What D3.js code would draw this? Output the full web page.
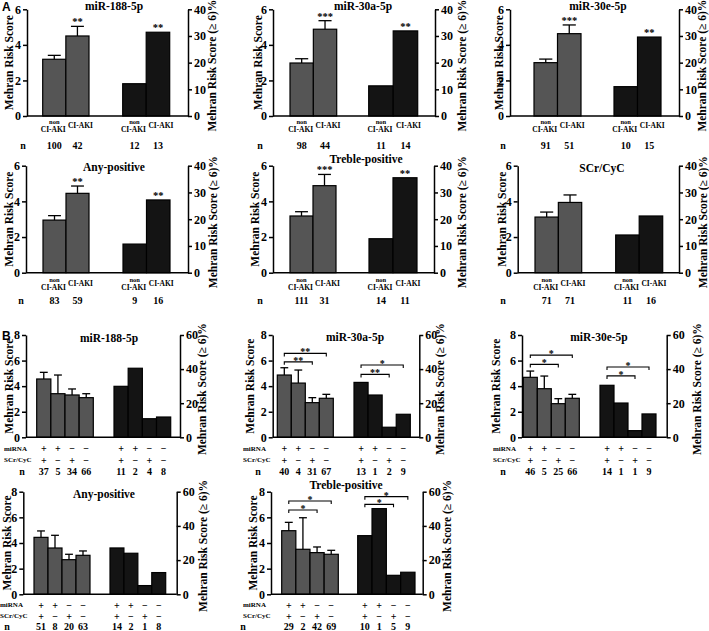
<!DOCTYPE html>
<html><head><meta charset="utf-8">
<script src="https://cdn.jsdelivr.net/npm/d3@7"></script>
<style>
body{margin:0;background:#fff;}
svg text{font-family:"Liberation Serif","Times New Roman",serif;font-weight:bold;fill:#000;}
</style></head>
<body><svg id="c" width="709" height="631"></svg>
<script>
// ---------- DATA ----------
const panelsA = ["miR-188-5p","miR-30a-5p","miR-30e-5p","Any-positive","Treble-positive","SCr/CyC"];
const groupsA = ["non CI-AKI","CI-AKI"];
const meanA = [[3.19,4.50],[2.98,4.88],[3.00,4.63],[2.95,4.45],[3.18,4.88],[3.12,3.94]];
const errTopA = [[3.41,5.04],[3.22,5.36],[3.20,5.12],[3.20,4.86],[3.42,5.51],[3.40,4.36]];
const pctA = [[12.1,31.4],[11.3,31.9],[11.0,29.6],[10.7,27.2],[12.7,35.5],[14.1,21.2]];
const sigMeanA = ["**","***","***","**","***",""];
const sigPctA = ["**","**","**","**","**",""];
const nMeanA = [[100,42],[98,44],[91,51],[83,59],[111,31],[71,71]];
const nPctA = [[12,13],[11,14],[10,15],[9,16],[14,11],[11,16]];
const ticksLeftA = [0,2,4,6];
const ticksRightA = [0,10,20,30,40];

const panelsB = ["miR-188-5p","miR-30a-5p","miR-30e-5p","Any-positive","Treble-positive"];
const miRNASigns = ["+","+","\u2212","\u2212"];
const scrSigns = ["+","\u2212","+","\u2212"];
const meanB = [[4.56,3.41,3.31,3.10],[4.87,4.24,2.71,3.05],[4.69,3.80,2.63,3.05],[4.44,3.61,2.70,3.04],[4.96,3.51,3.25,3.12]];
const errTopB = [[5.08,4.87,3.78,3.41],[5.44,5.26,3.10,3.36],[5.18,4.79,3.02,3.36],[4.94,4.60,3.12,3.38],[5.61,5.97,3.69,3.43]];
const pctB = [[29.9,40.5,10.9,11.9],[32.2,24.8,5.9,13.5],[30.5,20.1,3.9,13.7],[27.1,24.0,5.1,12.7],[34.3,50.1,11.1,12.9]];
const nMeanB = [[37,5,34,66],[40,4,31,67],[46,5,25,66],[51,8,20,63],[29,2,42,69]];
const nPctB = [[11,2,4,8],[13,1,2,9],[14,1,1,9],[14,2,1,8],[10,1,5,9]];
// brackets: [fromBar, toBar, level, label]
const bracketsMeanB = [[],[[0,2,5.9,"**"],[0,3,6.56,"**"]],[[0,2,5.7,"*"],[0,3,6.43,"*"]],[],[[0,2,6.57,"*"],[0,3,7.27,"*"]]];
const bracketsPctB = [[],[[0,2,36.9,"**"],[0,3,42.4,"*"]],[[0,2,36.0,"*"],[0,3,41.2,"*"]],[],[[0,2,52.6,"*"],[0,3,57.1,"*"]]];
const ticksLeftB = [0,2,4,6,8];
const ticksRightB = [0,20,40,60];

const leftTitle = "Mehran Risk Score";
const rightTitle = "Mehran Risk Score (\u2265 6)%";

// ---------- LAYOUT ----------
const layA = [
 {L:27, R:188, top:9.3, bot:116, g:[42.7,89], b:[122.7,169.7], tx:114, ty:6, ll:9, rl:212, cy:121, ny:145, nx:23},
 {L:273, R:435, top:9.3, bot:116, g:[290,336.7], b:[368.7,417.7], tx:363, ty:6, ll:258, rl:462, cy:121, ny:145, nx:260},
 {L:510, R:679, top:9.3, bot:116, g:[534,581], b:[614,661], tx:598, ty:6, ll:499, rl:702, cy:121, ny:145, nx:503},
 {L:26, R:188, top:165.7, bot:272.7, g:[43,89], b:[123,170], tx:114, ty:167, ll:9, rl:213, cy:279, ny:300, nx:21},
 {L:273, R:434, top:165.7, bot:272.7, g:[290,336], b:[369,417], tx:366, ty:159, ll:255, rl:462, cy:279, ny:300, nx:260},
 {L:517.7, R:679, top:165.7, bot:272.7, g:[535,581.7], b:[615.7,662.7], tx:602, ty:168, ll:502, rl:703, cy:279, ny:300, nx:503}
];
const layB = [
 {L:26, R:180, top:335, bot:437.3, g:[36.7,93.3], b:[114,170.7], tx:109, ty:338, ll:9, rl:202, ry:[448.5,460,471.5], rx:4, nx:22},
 {L:272.7, R:419.3, top:335, bot:437.3, g:[277.3,333.3], b:[354,410.3], tx:355, ty:337, ll:250, rl:440, ry:[448.5,460,471.5], rx:243, nx:258},
 {L:522, R:666.7, top:335, bot:437.3, g:[523.3,579.3], b:[600,656], tx:599, ty:337, ll:496, rl:697, ry:[448.5,460,471.5], rx:493, nx:503},
 {L:23.3, R:176.7, top:491.7, bot:594.3, g:[34,90], b:[110,165.7], tx:104, ty:494, ll:7, rl:203, ry:[605,616,626.5], rx:0, nx:7},
 {L:271, R:422.7, top:491.7, bot:594.3, g:[281.7,338.3], b:[357.7,415], tx:346, ty:485, ll:253, rl:447, ry:[605,616,626.5], rx:243, nx:243}
];

const GRAY = "#555555", BLACK = "#141414";
const svg = d3.select("#c");

function styleAxis(g){
  g.selectAll("path,line").attr("stroke","#000").attr("stroke-width",1.5);
  g.selectAll("text").attr("font-family","Liberation Serif, serif").attr("font-weight","bold").attr("font-size",12).attr("fill","#000");
}

function drawPanel(lay, title, mean, errTop, pct, maxL, maxR, tL, tR) {
  const g = svg.append("g");
  const yL = d3.scaleLinear().domain([0,maxL]).range([lay.bot, lay.top]);
  const yR = d3.scaleLinear().domain([0,maxR]).range([lay.bot, lay.top]);
  const idx = d3.range(mean.length);
  const xG = d3.scaleBand().domain(idx).range(lay.g).padding(0);
  const xB = d3.scaleBand().domain(idx).range(lay.b).padding(0);

  g.selectAll(".gb").data(mean).join("rect")
    .attr("x",(d,i)=>xG(i)).attr("width",xG.bandwidth())
    .attr("y",d=>yL(d)).attr("height",d=>yL(0)-yL(d))
    .attr("fill",GRAY).attr("stroke","#000").attr("stroke-width",1.2);
  g.selectAll(".bb").data(pct).join("rect")
    .attr("x",(d,i)=>xB(i)).attr("width",xB.bandwidth())
    .attr("y",d=>yR(d)).attr("height",d=>yR(0)-yR(d))
    .attr("fill",BLACK).attr("stroke","#000").attr("stroke-width",1.2);
  const cw = xG.bandwidth()*0.28;
  errTop.forEach((e,i)=>{
    const cx = xG(i)+xG.bandwidth()/2;
    g.append("line").attr("x1",cx).attr("x2",cx).attr("y1",yL(mean[i])).attr("y2",yL(e)).attr("stroke","#000").attr("stroke-width",1.3);
    g.append("line").attr("x1",cx-cw).attr("x2",cx+cw).attr("y1",yL(e)).attr("y2",yL(e)).attr("stroke","#000").attr("stroke-width",1.3);
  });
  const fmt = d3.format("d");
  g.append("g").attr("transform",`translate(${lay.L},0)`).call(d3.axisLeft(yL).tickValues(tL).tickFormat(fmt).tickSize(4).tickSizeOuter(0).tickPadding(2)).call(styleAxis);
  g.append("g").attr("transform",`translate(${lay.R},0)`).call(d3.axisRight(yR).tickValues(tR).tickFormat(fmt).tickSize(4).tickSizeOuter(0).tickPadding(2)).call(styleAxis);
  g.append("line").attr("x1",lay.L).attr("x2",lay.R).attr("y1",yL(0)).attr("y2",yL(0)).attr("stroke","#000").attr("stroke-width",1.5);
  g.append("text").attr("x",lay.tx).attr("y",lay.ty).attr("text-anchor","middle").attr("dominant-baseline","central").attr("font-size",11.5).text(title);
  const mid = (lay.top+lay.bot)/2;
  g.append("text").attr("transform",`translate(${lay.ll},${mid}) rotate(-90)`).attr("text-anchor","middle").attr("dominant-baseline","central").attr("font-size",11.5).text(leftTitle);
  g.append("text").attr("transform",`translate(${lay.rl},${mid+3}) rotate(-90)`).attr("text-anchor","middle").attr("dominant-baseline","central").attr("font-size",11.5).text(rightTitle);
  return {g,yL,yR,xG,xB};
}

// ---------- PANEL A ----------
panelsA.forEach((t,p)=>{
  const lay = layA[p];
  const {g,yL,yR,xG,xB} = drawPanel(lay,t,meanA[p],errTopA[p],pctA[p],6,40,ticksLeftA,ticksRightA);
  const cG = i=>xG(i)+xG.bandwidth()/2, cB = i=>xB(i)+xB.bandwidth()/2;
  if (sigMeanA[p]) g.append("text").attr("x",cG(1)).attr("y",yL(errTopA[p][1])-1).attr("text-anchor","middle").attr("font-size",10.5).text(sigMeanA[p]);
  if (sigPctA[p]) g.append("text").attr("x",cB(1)).attr("y",yR(pctA[p][1])-1).attr("text-anchor","middle").attr("font-size",10.5).text(sigPctA[p]);
  [cG,cB].forEach(cf=>{
    g.append("text").attr("x",cf(0)).attr("y",lay.cy).attr("text-anchor","middle").attr("dominant-baseline","central").attr("font-size",6.5).text("non");
    g.append("text").attr("x",cf(0)-1).attr("y",lay.cy+8).attr("text-anchor","middle").attr("dominant-baseline","central").attr("font-size",7.5).text(groupsA[1]);
    g.append("text").attr("x",cf(1)+3).attr("y",lay.cy+4.5).attr("text-anchor","middle").attr("dominant-baseline","central").attr("font-size",7.5).text(groupsA[1]);
  });
  g.append("text").attr("x",lay.nx).attr("y",lay.ny).attr("text-anchor","middle").attr("dominant-baseline","central").attr("font-size",10).text("n");
  nMeanA[p].forEach((n,i)=>g.append("text").attr("x",cG(i)).attr("y",lay.ny).attr("text-anchor","middle").attr("dominant-baseline","central").attr("font-size",10).text(n));
  nPctA[p].forEach((n,i)=>g.append("text").attr("x",cB(i)).attr("y",lay.ny).attr("text-anchor","middle").attr("dominant-baseline","central").attr("font-size",10).text(n));
});

// ---------- PANEL B ----------
panelsB.forEach((t,p)=>{
  const lay = layB[p];
  const {g,yL,yR,xG,xB} = drawPanel(lay,t,meanB[p],errTopB[p],pctB[p],8,60,ticksLeftB,ticksRightB);
  const cG = i=>xG(i)+xG.bandwidth()/2, cB = i=>xB(i)+xB.bandwidth()/2;
  const drawBr = (list, cf, ys)=>{
    list.forEach(([a,b,lv,lab])=>{
      const y = ys(lv);
      g.append("path").attr("d",`M${cf(a)},${y+3}V${y}H${cf(b)}V${y+3}`).attr("fill","none").attr("stroke","#000").attr("stroke-width",1.1);
      g.append("text").attr("x",(cf(a)+cf(b))/2).attr("y",y+2).attr("text-anchor","middle").attr("font-size",10).text(lab);
    });
  };
  drawBr(bracketsMeanB[p], cG, yL);
  drawBr(bracketsPctB[p], cB, yR);
  const rows = [["miRNA",miRNASigns],["SCr/CyC",scrSigns]];
  rows.forEach(([lab,signs],r)=>{
    g.append("text").attr("x",lay.rx).attr("y",lay.ry[r]).attr("dominant-baseline","central").attr("font-size",7).text(lab);
    signs.forEach((s,i)=>{
      g.append("text").attr("x",cG(i)).attr("y",lay.ry[r]).attr("text-anchor","middle").attr("dominant-baseline","central").attr("font-size",10).text(s);
      g.append("text").attr("x",cB(i)).attr("y",lay.ry[r]).attr("text-anchor","middle").attr("dominant-baseline","central").attr("font-size",10).text(s);
    });
  });
  g.append("text").attr("x",lay.nx).attr("y",lay.ry[2]).attr("text-anchor","middle").attr("dominant-baseline","central").attr("font-size",10).text("n");
  nMeanB[p].forEach((n,i)=>g.append("text").attr("x",cG(i)).attr("y",lay.ry[2]).attr("text-anchor","middle").attr("dominant-baseline","central").attr("font-size",10).text(n));
  nPctB[p].forEach((n,i)=>g.append("text").attr("x",cB(i)).attr("y",lay.ry[2]).attr("text-anchor","middle").attr("dominant-baseline","central").attr("font-size",10).text(n));
});

svg.append("text").attr("x",2).attr("y",11).attr("font-size",12).style("font-family","Liberation Sans, Arial, sans-serif").text("A");
svg.append("text").attr("x",2).attr("y",340).attr("font-size",12).style("font-family","Liberation Sans, Arial, sans-serif").text("B");
</script></body></html>
